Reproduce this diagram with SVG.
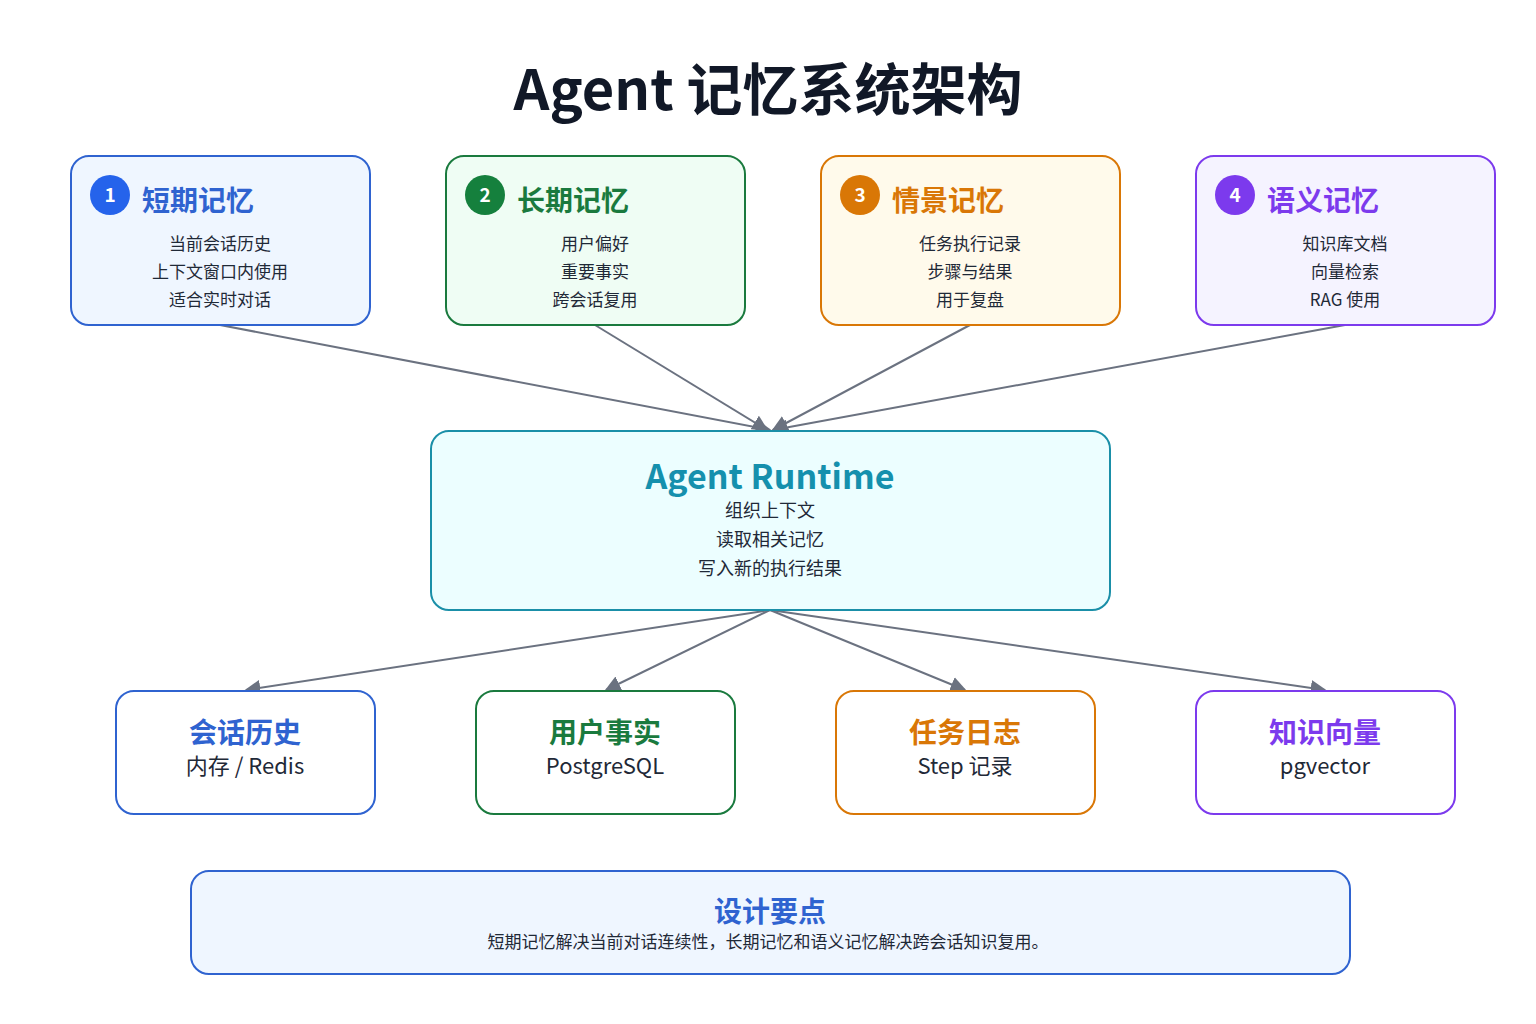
<svg xmlns="http://www.w3.org/2000/svg" width="1536" height="1024" viewBox="0 0 1536 1024">
<defs>
<marker id="ah2" viewBox="0 0 10 10" refX="9" refY="5" markerWidth="16" markerHeight="16" markerUnits="userSpaceOnUse" orient="auto"><path d="M0,0L10,5L0,10z" fill="#6b7280"/></marker>
<style>
text{font-family:"Noto Sans CJK SC","Noto Sans",sans-serif;text-anchor:middle}
.t{font-size:28px;font-weight:700}
.s{font-size:17px;fill:#1f2937}
.n{font-size:19px;font-weight:700;fill:#fff}
.c line{stroke:#6b7280;stroke-width:2;marker-end:url(#ah2)}
</style>
</defs>
<rect width="1536" height="1024" fill="#fff"/>
<text x="768" y="110" style="font-size:56px;font-weight:700;fill:#111827">Agent 记忆系统架构</text>
<g class="c">
<line x1="220" y1="325" x2="770" y2="430"/>
<line x1="595" y1="325" x2="767" y2="430"/>
<line x1="970" y1="325" x2="773" y2="430"/>
<line x1="1345" y1="325" x2="773" y2="430"/>
<line x1="770" y1="610" x2="246" y2="690"/>
<line x1="770" y1="610" x2="606" y2="690"/>
<line x1="770" y1="610" x2="965" y2="690"/>
<line x1="770" y1="610" x2="1325" y2="690"/>
</g>
<g id="n1"><rect x="71" y="156" width="299" height="169" rx="18" fill="#eff6ff" stroke="#2f63d0" stroke-width="2"/><circle cx="110" cy="195" r="20" fill="#2563eb"/><text x="110" y="202" class="n">1</text><text x="198" y="211" class="t" fill="#2f63d0">短期记忆</text><text x="220" y="250" class="s">当前会话历史</text><text x="220" y="278" class="s">上下文窗口内使用</text><text x="220" y="306" class="s">适合实时对话</text></g>
<g id="n2"><rect x="446" y="156" width="299" height="169" rx="18" fill="#effdf4" stroke="#1a7a3e" stroke-width="2"/><circle cx="485" cy="195" r="20" fill="#15803d"/><text x="485" y="202" class="n">2</text><text x="573" y="211" class="t" fill="#1a7a3e">长期记忆</text><text x="595" y="250" class="s">用户偏好</text><text x="595" y="278" class="s">重要事实</text><text x="595" y="306" class="s">跨会话复用</text></g>
<g id="n3"><rect x="821" y="156" width="299" height="169" rx="18" fill="#fffaeb" stroke="#d97706" stroke-width="2"/><circle cx="860" cy="195" r="20" fill="#d97706"/><text x="860" y="202" class="n">3</text><text x="948" y="211" class="t" fill="#d97706">情景记忆</text><text x="970" y="250" class="s">任务执行记录</text><text x="970" y="278" class="s">步骤与结果</text><text x="970" y="306" class="s">用于复盘</text></g>
<g id="n4"><rect x="1196" y="156" width="299" height="169" rx="18" fill="#f5f3ff" stroke="#7c3aed" stroke-width="2"/><circle cx="1235" cy="195" r="20" fill="#7c3aed"/><text x="1235" y="202" class="n">4</text><text x="1323" y="211" class="t" fill="#7c3aed">语义记忆</text><text x="1345" y="250" class="s">知识库文档</text><text x="1345" y="278" class="s">向量检索</text><text x="1345" y="306" class="s">RAG 使用</text></g>
<g id="runtime"><rect x="431" y="431" width="679" height="179" rx="18" fill="#ecfeff" stroke="#1a8fa8" stroke-width="2"/><text x="770" y="489" style="font-size:34px;font-weight:700;fill:#1590ad">Agent Runtime</text><text x="770" y="517" class="s" style="font-size:18px">组织上下文</text><text x="770" y="546" class="s" style="font-size:18px">读取相关记忆</text><text x="770" y="575" class="s" style="font-size:18px">写入新的执行结果</text></g>
<g id="b1"><rect x="116" y="691" width="259" height="123" rx="18" fill="#fff" stroke="#2f63d0" stroke-width="2"/><text x="245" y="743" class="t" fill="#2f63d0">会话历史</text><text x="245" y="774" class="s" style="font-size:22px">内存 / Redis</text></g>
<g id="b2"><rect x="476" y="691" width="259" height="123" rx="18" fill="#fff" stroke="#1a7a3e" stroke-width="2"/><text x="605" y="743" class="t" fill="#1a7a3e">用户事实</text><text x="605" y="774" class="s" style="font-size:22px">PostgreSQL</text></g>
<g id="b3"><rect x="836" y="691" width="259" height="123" rx="18" fill="#fff" stroke="#d97706" stroke-width="2"/><text x="965" y="743" class="t" fill="#d97706">任务日志</text><text x="965" y="774" class="s" style="font-size:22px">Step 记录</text></g>
<g id="b4"><rect x="1196" y="691" width="259" height="123" rx="18" fill="#fff" stroke="#7c3aed" stroke-width="2"/><text x="1325" y="743" class="t" fill="#7c3aed">知识向量</text><text x="1325" y="774" class="s" style="font-size:22px">pgvector</text></g>
<g id="note"><rect x="191" y="871" width="1159" height="103" rx="18" fill="#eff6ff" stroke="#2f63d0" stroke-width="2"/><text x="770" y="922" class="t" fill="#2f63d0">设计要点</text><text x="768" y="948" class="s">短期记忆解决当前对话连续性，长期记忆和语义记忆解决跨会话知识复用。</text></g>
</svg>
